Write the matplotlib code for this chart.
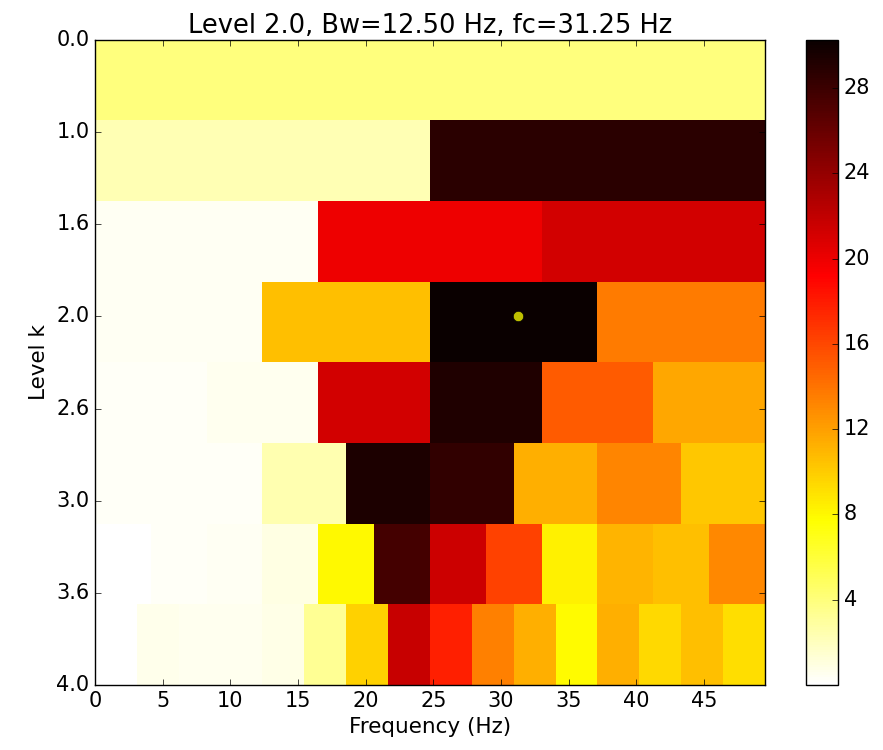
import numpy as np
import matplotlib
matplotlib.use('agg')
from matplotlib import pyplot as plt

# kurtogram values per level (each row split into equal bands over 0..fs/2)
row_0_0 = [4.0]
row_1_0 = [2.3, 28.8]
row_1_6 = [0.45, 19.9, 21.2]
row_2_0 = [0.4, 10.6, 30.25, 13.7]
row_2_6 = [0.35, 0.55, 21.2, 29.3, 15.1, 11.6]
row_3_0 = [0.3, 0.25, 2.4, 29.4, 28.4, 11.3, 13.2, 10.2]
row_3_6 = [0.0, 0.35, 0.45, 0.9, 8.0, 27.6, 21.5, 16.3, 8.3, 11.1, 10.6, 13.0]
row_4_0 = [0.0, 0.7, 0.5, 0.55, 0.8, 3.3, 9.8, 21.7, 17.8, 13.4, 11.3, 7.9, 11.3, 9.4, 10.6, 9.1]

level_labels = ['0.0', '1.0', '1.6', '2.0', '2.6', '3.0', '3.6', '4.0']
freq_max = 49.48
best_fc = 31.25
best_row = 3
cbar_ticks = [4, 8, 12, 16, 20, 24, 28]
title = 'Level 2.0, Bw=12.50 Hz, fc=31.25 Hz'

plt.style.use('classic')
plt.rc('font', size=15)
plt.rc('axes', titlesize=18.5, labelsize=15.5)
plt.rc('xtick', labelsize=15)
plt.rc('ytick', labelsize=15)

rows = [row_0_0, row_1_0, row_1_6, row_2_0, row_2_6, row_3_0, row_3_6, row_4_0]
ncol = 48
kwav = np.array([np.repeat(r, ncol // len(r)) for r in rows])

fig = plt.figure(figsize=(8.83, 7.5), dpi=100, facecolor='white')
ax = fig.add_axes([0.1076, 0.0867, 0.7584, 0.86])
cax = fig.add_axes([0.9128, 0.0867, 0.0362, 0.86])

im = ax.imshow(kwav, aspect='auto', cmap='hot_r', interpolation='nearest',
               extent=(0, freq_max, len(rows) - 1, 0),
               vmin=kwav.min(), vmax=kwav.max())
ax.plot(best_fc, best_row, 'yo', markersize=7.5)
ax.set_xlim(0, freq_max)
ax.set_ylim(len(rows) - 1, 0)
ax.set_xticks(np.arange(0, 50, 5))
ax.set_yticks(range(len(level_labels)))
ax.set_yticklabels(level_labels)
ax.set_xlabel('Frequency (Hz)')
ax.set_ylabel('Level k')
ax.set_title(title, y=1.0, pad=5)

cb = fig.colorbar(im, cax=cax)
cb.set_ticks(cbar_ticks)

fig.savefig('out.png', dpi=100, facecolor='white')
